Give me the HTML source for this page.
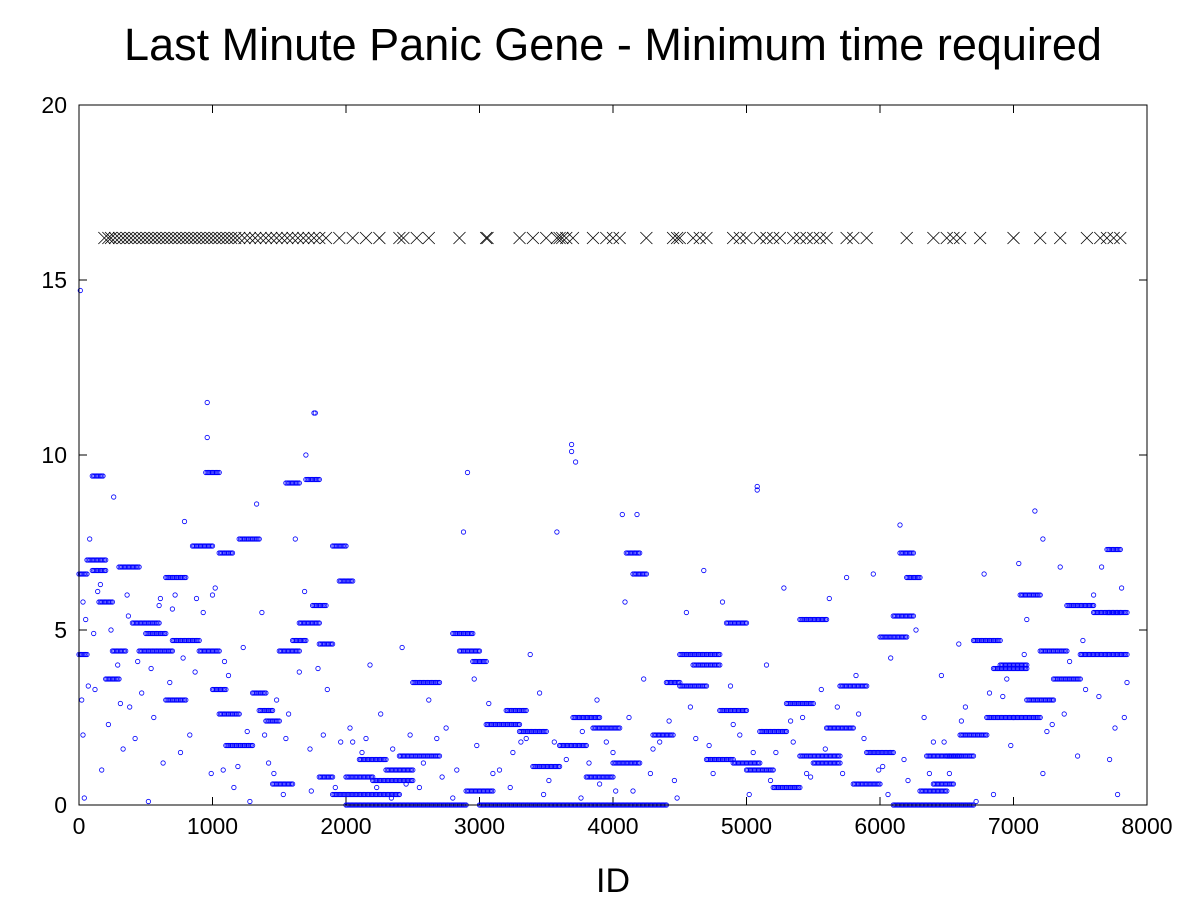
<!DOCTYPE html>
<html><head><meta charset="utf-8">
<style>
body{margin:0;background:#fff;}
svg text{font-family:"Liberation Sans",sans-serif;fill:#000;}
</style></head>
<body>
<svg id="chart" width="1200" height="900" viewBox="0 0 1200 900" xmlns="http://www.w3.org/2000/svg">
<rect width="1200" height="900" fill="#fff"/>
<text x="613" y="60" font-size="45" text-anchor="middle">Last Minute Panic Gene - Minimum time required</text>
<text x="613" y="892" font-size="34" text-anchor="middle">ID</text>
<g id="axes"></g>
<g id="marks"></g>
<rect x="79" y="105" width="1068" height="700" fill="none" stroke="#000" stroke-width="1"/>
</svg>
<script>
const xTicks=[0,1000,2000,3000,4000,5000,6000,7000,8000];
const yTicks=[0,5,10,15,20];
const runStart=[0,0,60,100,100,150,200,250,300,400,450,500,650,650,700,850,900,950,1000,1050,1050,1100,1200,1300,1350,1400,1450,1500,1550,1600,1650,1700,1750,1800,1800,1900,1950,1900,2000,2100,2200,2300,2400,2500,2000,2800,2850,2950,2900,3050,3200,3300,3400,3600,3700,3800,3850,4000,4100,4150,3000,4300,4400,4500,4500,4600,4700,4800,4850,4900,5000,5100,5200,5300,5400,5400,5500,5600,5700,5800,5900,6000,6100,6150,6200,6300,6350,6400,6500,6600,6700,6800,6850,6900,7000,7050,7100,7200,7300,7400,7500,7600,7700,7700,7700,6100];
const runEnd=[60,60,200,200,180,250,300,350,450,600,700,650,800,800,900,1000,1050,1050,1100,1150,1200,1300,1350,1400,1450,1500,1600,1650,1650,1700,1800,1800,1850,1900,1900,2000,2050,2400,2200,2300,2500,2500,2700,2700,2900,2950,3000,3050,3100,3300,3350,3500,3600,3800,3900,4000,4050,4200,4200,4250,4400,4450,4500,4700,4800,4800,4900,5000,5000,5100,5200,5300,5400,5500,5600,5700,5700,5800,5900,6000,6100,6200,6250,6250,6300,6500,6600,6550,6700,6800,6900,7000,7100,7100,7200,7200,7300,7400,7500,7600,7700,7800,7850,7850,7800,6700];
const runY=[6.6,4.3,7.0,6.7,9.4,5.8,3.6,4.4,6.8,5.2,4.4,4.9,6.5,3.0,4.7,7.4,4.4,9.5,3.3,7.2,2.6,1.7,7.6,3.2,2.7,2.4,0.6,4.4,9.2,4.7,5.2,9.3,5.7,4.6,0.8,7.4,6.4,0.3,0.8,1.3,0.7,1.0,1.4,3.5,0.0,4.9,4.4,4.1,0.4,2.3,2.7,2.1,1.1,1.7,2.5,0.8,2.2,1.2,7.2,6.6,0.0,2.0,3.5,3.4,4.3,4.0,1.3,2.7,5.2,1.2,1.0,2.1,0.5,2.9,5.3,1.4,1.2,2.2,3.4,0.6,1.5,4.8,5.4,7.2,6.5,0.4,1.4,0.6,1.4,2.0,4.7,2.5,3.9,4.0,2.5,6.0,3.0,4.4,3.6,5.7,4.3,5.5,5.5,4.3,7.3,0.0];
const ptId=[10,20,30,40,50,80,120,140,170,220,260,290,330,360,380,420,470,520,560,600,630,680,720,760,790,830,870,930,960,990,1020,1080,1120,1160,1230,1280,1330,1370,1420,1480,1530,1570,1620,1690,1730,1760,1790,1860,1960,2030,2120,2180,2260,2340,2420,2480,2550,2620,2680,2750,2800,2880,2910,2980,3070,3150,3230,3310,3380,3450,3520,3580,3650,3690,3720,3760,3820,3880,3950,4020,4070,4120,4180,4230,4280,4350,4420,4480,4550,4620,4680,4750,4820,4880,4950,5020,5080,5150,5220,5280,5350,5420,5480,5560,5620,5680,5750,5820,5880,5950,6020,6080,6150,6210,6270,6330,6400,6460,6520,6590,6640,6720,6780,6850,6920,6980,7040,7100,7160,7220,7290,7350,7420,7480,7540,7600,7660,7720,7780,7830,7850,960,1770,1700,3690,5080,7220,4090,
 30,70,110,160,240,310,370,440,540,610,700,780,880,1000,1090,1190,1260,1390,1460,1550,1650,1740,1830,1920,2050,2150,2230,2350,2450,2580,2720,2830,2960,3100,3250,3350,3480,3560,3770,3900,4000,4150,4300,4460,4580,4720,4900,5050,5180,5330,5450,5590,5720,5840,5990,6060,6180,6370,6480,6610,6820,6950,7080,7250,7380,7520,7640,7760,7810];
const ptY=[14.7,3.0,2.0,0.2,5.3,7.6,3.3,6.1,1.0,2.3,8.8,4.0,1.6,6.0,2.8,1.9,3.2,0.1,2.5,5.7,1.2,3.5,6.0,1.5,8.1,2.0,3.8,5.5,10.5,0.9,6.2,1.0,3.7,0.5,4.5,0.1,8.6,5.5,1.2,3.0,0.3,2.6,7.6,6.1,1.6,11.2,3.9,3.3,1.8,2.2,1.5,4.0,2.6,0.2,4.5,2.0,0.5,3.0,1.9,2.2,0.2,7.8,9.5,1.7,2.9,1.0,0.5,1.8,4.3,3.2,0.7,7.8,1.3,10.3,9.8,0.2,1.2,3.0,1.8,0.4,8.3,2.5,8.3,3.6,0.9,1.8,2.4,0.2,5.5,1.9,6.7,0.9,5.8,3.4,2.0,0.3,9.1,4.0,1.5,6.2,1.8,2.5,0.8,3.3,5.9,2.8,6.5,3.7,1.9,6.6,1.1,4.2,8.0,0.7,5.0,2.5,1.8,3.7,0.9,4.6,2.8,0.1,6.6,0.3,3.1,1.7,6.9,5.3,8.4,0.9,2.3,6.8,4.1,1.4,3.3,6.0,6.8,1.3,0.3,2.5,3.5,11.5,11.2,10.0,10.1,9.0,7.6,5.8,
 5.8,3.4,4.9,6.3,5.0,2.9,5.4,4.1,3.9,5.9,5.6,4.2,5.9,6.0,4.1,1.1,2.1,2.0,0.9,1.9,3.8,0.4,2.0,0.5,1.8,1.9,0.5,1.6,0.6,1.2,0.8,1.0,3.6,0.9,1.5,1.9,0.3,1.8,2.1,0.6,1.5,0.4,1.6,0.7,2.8,1.7,2.3,1.5,0.7,2.4,0.9,1.6,0.9,2.6,1.0,0.3,1.3,0.9,1.8,2.4,3.2,3.6,4.3,2.1,2.6,4.7,3.1,2.2,6.2];
const crossId=[190,220,240,270,300,330,360,390,420,450,480,510,540,570,600,630,660,690,720,750,780,810,840,870,900,930,960,990,1020,1050,1080,1110,1140,1170,1200,1240,1280,1320,1360,1400,1440,1480,1520,1560,1600,1640,1680,1720,1760,1800,1850,1950,2050,2150,2250,2400,2430,2530,2620,2850,3050,3060,3300,3400,3500,3580,3600,3620,3650,3700,3850,3950,4000,4050,4250,4450,4480,4500,4600,4650,4700,4900,4950,5000,5100,5150,5200,5250,5350,5400,5450,5500,5550,5600,5750,5800,5900,6200,6400,6500,6550,6600,6750,7000,7200,7350,7550,7650,7700,7750,7800];
const crossY=16.2;

const X0=79,X1=1147,Y0=805,Y1=105;
const xs=v=>X0+(v/8000)*(X1-X0);
const ys=v=>Y0-(v/20)*(Y0-Y1);
const NS='http://www.w3.org/2000/svg';
const axes=document.getElementById('axes'),marks=document.getElementById('marks');
function mk(tag,parent){const e=document.createElementNS(NS,tag);parent.appendChild(e);return e;}
xTicks.forEach(t=>{
  const l=mk('line',axes);
  
  
  l.setAttribute('x1',xs(t));l.setAttribute('x2',xs(t));l.setAttribute('y1',Y0);l.setAttribute('y2',Y0-8);l.setAttribute('stroke','#000');
  const l2=mk('line',axes);
  
  
  l2.setAttribute('x1',xs(t));l2.setAttribute('x2',xs(t));l2.setAttribute('y1',Y1);l2.setAttribute('y2',Y1+8);l2.setAttribute('stroke','#000');
  const tx=mk('text',axes);
  
  
  tx.setAttribute('x',xs(t));tx.setAttribute('y',Y0+29);tx.setAttribute('font-size','23');tx.setAttribute('text-anchor','middle');tx.textContent=t;
});
yTicks.forEach(t=>{
  const l=mk('line',axes);
  
  
  l.setAttribute('x1',X0);l.setAttribute('x2',X0+8);l.setAttribute('y1',ys(t));l.setAttribute('y2',ys(t));l.setAttribute('stroke','#000');
  const l2=mk('line',axes);
  
  
  l2.setAttribute('x1',X1);l2.setAttribute('x2',X1-8);l2.setAttribute('y1',ys(t));l2.setAttribute('y2',ys(t));l2.setAttribute('stroke','#000');
  const tx=mk('text',axes);
  
  
  tx.setAttribute('x',X0-12);tx.setAttribute('y',ys(t)+8);tx.setAttribute('font-size','23');tx.setAttribute('text-anchor','end');tx.textContent=t;
});
function dot(id,v){
  const c=mk('circle',marks);
  
  
  c.setAttribute('cx',xs(id).toFixed(1));c.setAttribute('cy',ys(v).toFixed(1));c.setAttribute('r','2.2');
  c.setAttribute('fill','none');c.setAttribute('stroke','#00f');c.setAttribute('stroke-width','0.8');
}
runStart.forEach((s,i)=>{for(let id=s;id<=runEnd[i];id+=10)dot(id,runY[i]);});
ptId.forEach((id,i)=>dot(id,ptY[i]));
crossId.forEach(id=>{
  const p=mk('path',marks);
  
  
  const x=xs(id),y=ys(crossY),h=6;
  p.setAttribute('d',`M${x-h} ${y-h}L${x+h} ${y+h}M${x-h} ${y+h}L${x+h} ${y-h}`);
  p.setAttribute('stroke','#000');p.setAttribute('stroke-width','0.8');
});
</script>
</body></html>
